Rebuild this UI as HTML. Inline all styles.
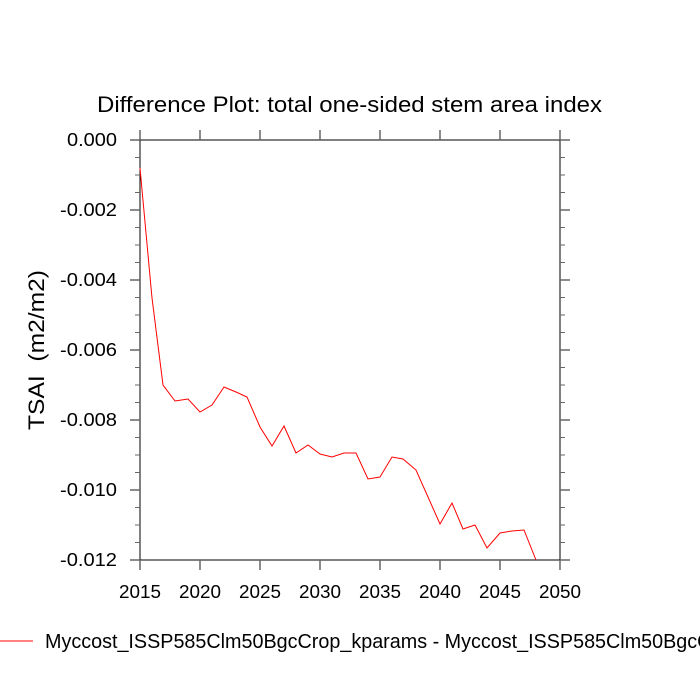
<!DOCTYPE html>
<html><head><style>body{margin:0;background:#fff}svg{display:block}</style></head><body>
<svg width="700" height="700" xmlns="http://www.w3.org/2000/svg" font-family="Liberation Sans, sans-serif">
<rect width="700" height="700" fill="#fff"/>
<text x="97" y="112" font-size="22" textLength="505" lengthAdjust="spacingAndGlyphs">Difference Plot: total one-sided stem area index</text>
<g stroke="#666" stroke-width="1.5" fill="none">
<rect x="140" y="140" width="420" height="420" stroke="#000" stroke-width="1"/>
<path d="M140,140h-10M140,210h-10M140,280h-10M140,350h-10M140,420h-10M140,490h-10M140,560h-10
M560,140h10M560,210h10M560,280h10M560,350h10M560,420h10M560,490h10M560,560h10
M140,560v10M200,560v10M260,560v10M320,560v10M380,560v10M440,560v10M500,560v10M560,560v10
M140,140v-10M200,140v-10M260,140v-10M320,140v-10M380,140v-10M440,140v-10M500,140v-10M560,140v-10"/>
<path stroke-width="1" d="M140,157.5h-5M140,175h-5M140,192.5h-5M140,227.5h-5M140,245h-5M140,262.5h-5M140,297.5h-5M140,315h-5M140,332.5h-5M140,367.5h-5M140,385h-5M140,402.5h-5M140,437.5h-5M140,455h-5M140,472.5h-5M140,507.5h-5M140,525h-5M140,542.5h-5
M560,157.5h5M560,175h5M560,192.5h5M560,227.5h5M560,245h5M560,262.5h5M560,297.5h5M560,315h5M560,332.5h5M560,367.5h5M560,385h5M560,402.5h5M560,437.5h5M560,455h5M560,472.5h5M560,507.5h5M560,525h5M560,542.5h5"/>
</g>
<g font-size="18" text-anchor="end">
<text x="117" y="146" textLength="50" lengthAdjust="spacingAndGlyphs">0.000</text>
<text x="117" y="216" textLength="57" lengthAdjust="spacingAndGlyphs">-0.002</text>
<text x="117" y="286" textLength="57" lengthAdjust="spacingAndGlyphs">-0.004</text>
<text x="117" y="356" textLength="57" lengthAdjust="spacingAndGlyphs">-0.006</text>
<text x="117" y="426" textLength="57" lengthAdjust="spacingAndGlyphs">-0.008</text>
<text x="117" y="496" textLength="57" lengthAdjust="spacingAndGlyphs">-0.010</text>
<text x="117" y="566" textLength="57" lengthAdjust="spacingAndGlyphs">-0.012</text>
</g>
<g font-size="18" text-anchor="middle">
<text x="140" y="598" textLength="42" lengthAdjust="spacingAndGlyphs">2015</text>
<text x="200" y="598" textLength="42" lengthAdjust="spacingAndGlyphs">2020</text>
<text x="260" y="598" textLength="42" lengthAdjust="spacingAndGlyphs">2025</text>
<text x="320" y="598" textLength="42" lengthAdjust="spacingAndGlyphs">2030</text>
<text x="380" y="598" textLength="42" lengthAdjust="spacingAndGlyphs">2035</text>
<text x="440" y="598" textLength="42" lengthAdjust="spacingAndGlyphs">2040</text>
<text x="500" y="598" textLength="42" lengthAdjust="spacingAndGlyphs">2045</text>
<text x="560" y="598" textLength="42" lengthAdjust="spacingAndGlyphs">2050</text>
</g>
<text transform="translate(44,350) rotate(-90)" font-size="22" text-anchor="middle" textLength="160" lengthAdjust="spacingAndGlyphs" xml:space="preserve">TSAI  (m2/m2)</text>
<polyline fill="none" stroke="#ff0000" stroke-width="1" points="140,168 152,298 163,385 175,401 188,399 200,412 212,405 224,387 236,392 247,397 260,427 272,446 284,426 296,453 308,445 320,454 332,457 344,453 356,453 368,479 380,477 392,457 403,459 416,470 428,497 440,524 452,503 463,529 475,525 487,548 500,533 512,531 524,530 536,560"/>
<line x1="0" y1="641" x2="33" y2="641" stroke="#ff0000" stroke-width="1"/>
<text x="45" y="648" font-size="20" textLength="695" lengthAdjust="spacingAndGlyphs">Myccost_ISSP585Clm50BgcCrop_kparams - Myccost_ISSP585Clm50BgcCrop</text>
</svg>
</body></html>
